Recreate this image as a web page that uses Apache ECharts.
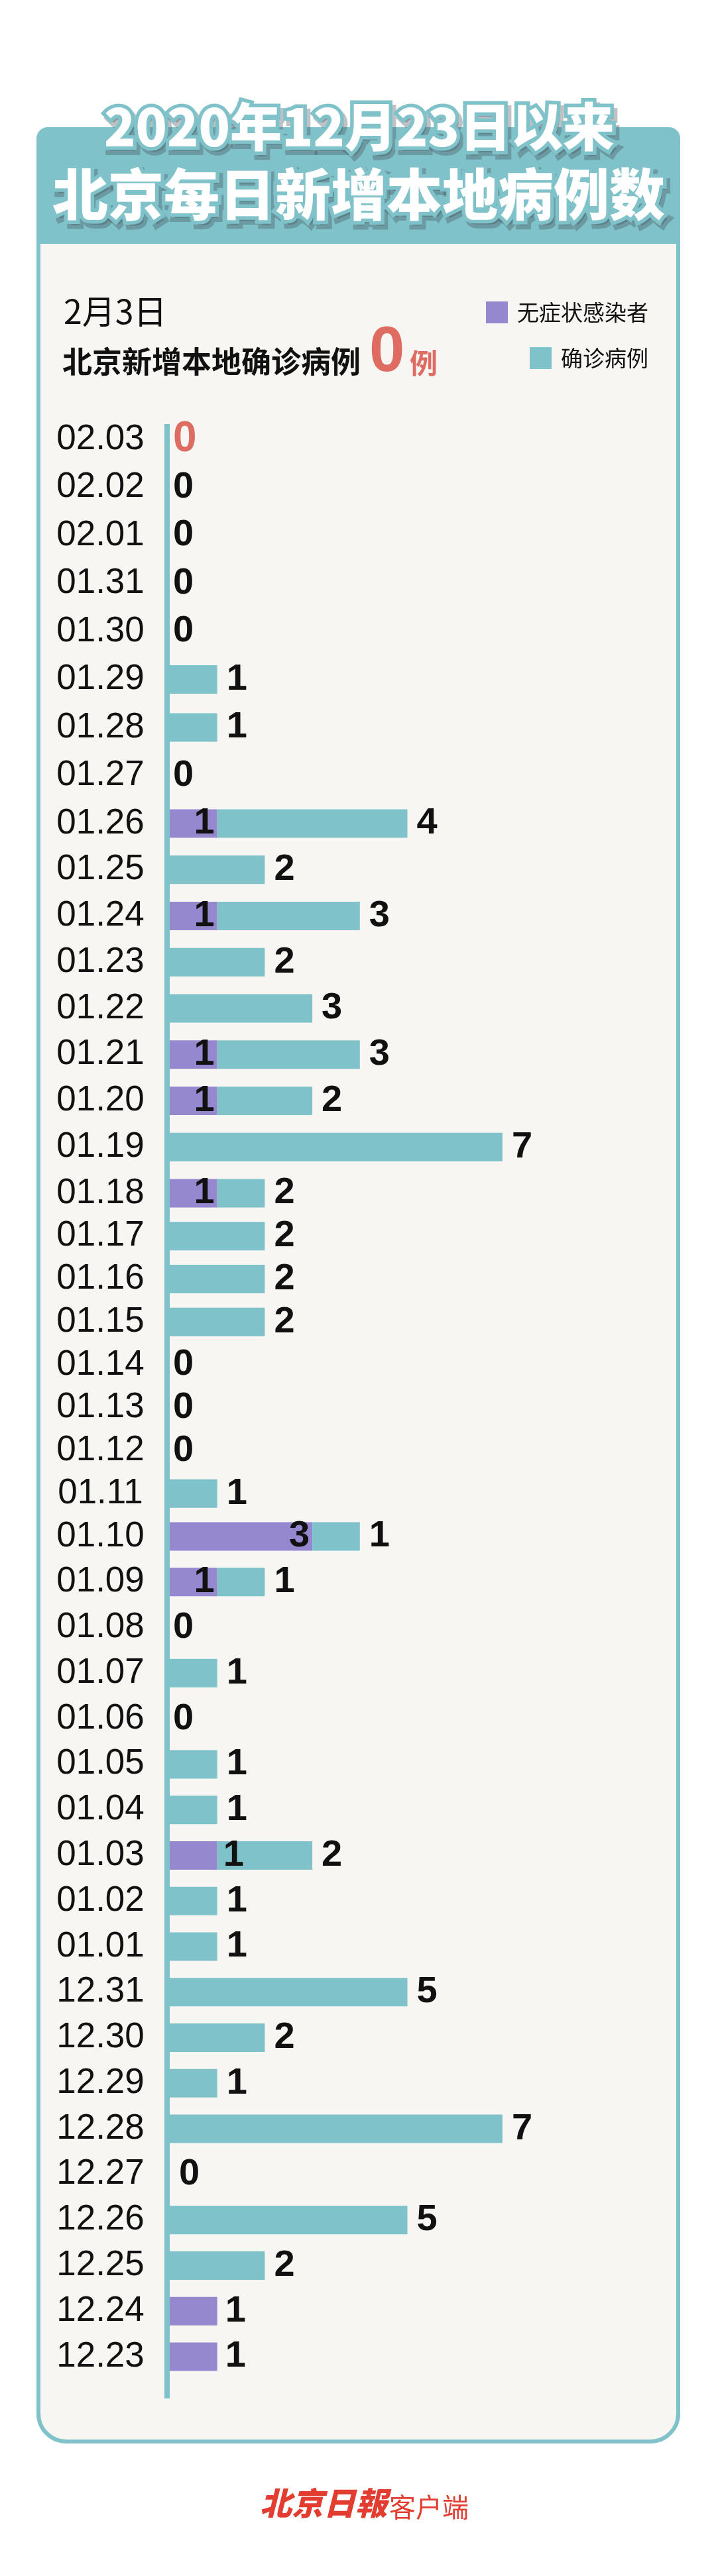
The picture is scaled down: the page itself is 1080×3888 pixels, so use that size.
<!DOCTYPE html>
<html><head><meta charset="utf-8">
<script src="https://cdn.jsdelivr.net/npm/echarts@6/dist/echarts.min.js"></script>
<style>html,body{margin:0;padding:0;background:#fff}#c{width:1080px;height:3888px}</style>
</head><body><div id="c"></div>
<script>
// ---------- data ----------
const dates = ['02.03','02.02','02.01','01.31','01.30','01.29','01.28','01.27','01.26','01.25',
  '01.24','01.23','01.22','01.21','01.20','01.19','01.18','01.17','01.16','01.15',
  '01.14','01.13','01.12','01.11','01.10','01.09','01.08','01.07','01.06','01.05',
  '01.04','01.03','01.02','01.01','12.31','12.30','12.29','12.28','12.27','12.26',
  '12.25','12.24','12.23'];
const asymptomatic = [0,0,0,0,0,0,0,0,1,0,
  1,0,0,1,1,0,1,0,0,0,
  0,0,0,0,3,1,0,0,0,0,
  0,1,0,0,0,0,0,0,0,0,
  0,1,1];
const confirmed = [0,0,0,0,0,1,1,0,4,2,
  3,2,3,3,2,7,1,2,2,2,
  0,0,0,1,1,1,0,1,0,1,
  1,2,1,1,5,2,1,7,0,5,
  2,0,0];
const confirmedLabels = [0,0,0,0,0,1,1,0,4,2,
  3,2,3,3,2,7,2,2,2,2,
  0,0,0,1,1,1,0,1,0,1,
  1,2,1,1,5,2,1,7,0,5,
  2,0,0];
const seriesNames = ['无症状感染者','确诊病例'];
const titleLines = ['2020年12月23日以来','北京每日新增本地病例数'];
const reportDate = '2月3日';
const headline = '北京新增本地确诊病例';
const todayCount = '0';
const unit = '例';
const brand = ['北京日報','客户端'];

// ---------- styles / layout ----------
const PURPLE='#9688CF', TEAL='#80C2CA', RED='#DE6C63', INK='#111111', CARD='#F8F6F3', BRAND='#E23D30';
const CJK = '"Noto Sans CJK SC", "Noto Sans", sans-serif';
const LAT = '"Liberation Sans", Arial, sans-serif';
const anchors = [[0,663],[8,1243],[16,1801],[24,2319],[42,3557]];
const valFont = {fontFamily:LAT, fontWeight:'bold', fontSize:56, color:INK};

function purpleItem(i){
  const p=asymptomatic[i], t=confirmed[i];
  if(!p) return {value:p, label:{show:false}};
  let label;
  if(t===0) label={show:true, position:'right', distance:12};
  else if(dates[i]==='01.03') label={show:true, position:'right', distance:9};
  else label={show:true, position:'insideRight', distance:4};
  return {value:p, label};
}
function tealItem(i){
  const p=asymptomatic[i], t=confirmed[i];
  if(t>0) return {value:t, label:{show:true, position:'right', formatter:String(confirmedLabels[i]), distance:14}};
  if(p>0) return {value:t, label:{show:false}};
  const lab={show:true, position:'right', formatter:'0', distance:(dates[i]==='12.27'?14:5)};
  if(i===0){lab.color=RED; lab.fontSize=64;}
  return {value:t, label:lab};
}

const grids=[], xAxes=[], yAxes=[], series=[];
for(let k=1;k<anchors.length;k++){
  const [i0,c0]=anchors[k-1], [i1,c1]=anchors[k];
  const band=(c1-c0)/(i1-i0);
  const start = k===1 ? i0 : i0+1;
  const n = i1-start+1;
  const firstCenter = c0+(start-i0)*band;
  const idxs=[]; for(let i=start;i<=i1;i++) idxs.push(i);
  const g=k-1;
  grids.push({left:256, width:717, top:firstCenter-band/2, height:band*n});
  xAxes.push({gridIndex:g, type:'value', min:0, max:10, show:false});
  yAxes.push({gridIndex:g, type:'category', inverse:true, data:idxs.map(i=>dates[i]),
    axisLine:{show:false}, axisTick:{show:false}, splitLine:{show:false},
    axisLabel:{interval:0, hideOverlap:false, align:'center', margin:104.5, fontSize:53, color:INK, fontFamily:LAT}});
  series.push({type:'bar', name:seriesNames[0], xAxisIndex:g, yAxisIndex:g, stack:'s'+g, barWidth:43,
    itemStyle:{color:PURPLE}, label:Object.assign({show:false}, valFont), data:idxs.map(purpleItem)});
  series.push({type:'bar', name:seriesNames[1], xAxisIndex:g, yAxisIndex:g, stack:'s'+g, barWidth:43,
    itemStyle:{color:TEAL}, label:Object.assign({show:false}, valFont), data:idxs.map(tealItem)});
}

function titleText(txt, cx, cy, size){
  const base={fontSize:size, fontFamily:CJK, fontWeight:900, align:'center', verticalAlign:'middle', text:txt};
  return [
    {type:'text', x:cx+5, y:cy+7, z:3, style:Object.assign({}, base, {fill:'rgba(70,80,90,0.35)', stroke:'rgba(70,80,90,0.35)', lineWidth:12})},
    {type:'text', x:cx, y:cy, z:4, style:Object.assign({}, base, {fill:TEAL, stroke:TEAL, lineWidth:11})},
    {type:'text', x:cx, y:cy, z:5, style:Object.assign({}, base, {fill:'#ffffff'})}
  ];
}

const graphic = [
  {type:'rect', z:0, shape:{x:58, y:195, width:965, height:3490, r:[14,14,42,42]}, style:{fill:CARD, stroke:TEAL, lineWidth:6}},
  {type:'rect', z:1, shape:{x:58, y:195, width:965, height:173, r:[14,14,4,4]}, style:{fill:TEAL}},
  ...titleText(titleLines[0], 542, 191, 78),
  ...titleText(titleLines[1], 541, 293, 84),
  {type:'text', z:3, x:96, y:470, style:{text:reportDate, fontSize:50, fontFamily:CJK, fontWeight:'normal', fill:INK, align:'left', verticalAlign:'middle'}},
  {type:'text', z:3, x:94, y:546, style:{text:headline, fontSize:45, fontFamily:CJK, fontWeight:'bold', fill:INK, align:'left', verticalAlign:'middle'}},
  {type:'text', z:3, x:557, y:534, style:{text:todayCount, fontSize:96, fontFamily:LAT, fontWeight:'bold', fill:RED, align:'left', verticalAlign:'middle'}},
  {type:'text', z:3, x:618, y:548, style:{text:unit, fontSize:42, fontFamily:CJK, fontWeight:'bold', fill:RED, align:'left', verticalAlign:'middle'}},
  {type:'rect', z:1, shape:{x:248, y:640, width:8, height:2980}, style:{fill:TEAL}},
  {type:'text', z:3, x:392, y:3778, style:{text:brand[0], fontSize:48, fontFamily:CJK, fontWeight:900, fontStyle:'italic', fill:BRAND, align:'left', verticalAlign:'middle'}},
  {type:'text', z:3, x:587, y:3784, style:{text:brand[1], fontSize:40, fontFamily:CJK, fontWeight:'normal', fill:BRAND, align:'left', verticalAlign:'middle'}}
];

const legendBase = {orient:'horizontal', right:102, itemWidth:33, itemHeight:33, icon:'rect', padding:0, selectedMode:false,
  textStyle:{fontSize:33, color:INK, fontFamily:CJK, padding:[0,0,0,9]}};

const chart = echarts.init(document.getElementById('c'), null, {renderer:'canvas'});
chart.setOption({
  backgroundColor:'#ffffff',
  animation:false,
  graphic:{elements:graphic},
  legend:[Object.assign({}, legendBase, {top:455, data:[seriesNames[0]]}),
          Object.assign({}, legendBase, {top:524, data:[seriesNames[1]]})],
  grid:grids, xAxis:xAxes, yAxis:yAxes, series:series
});
</script></body></html>
